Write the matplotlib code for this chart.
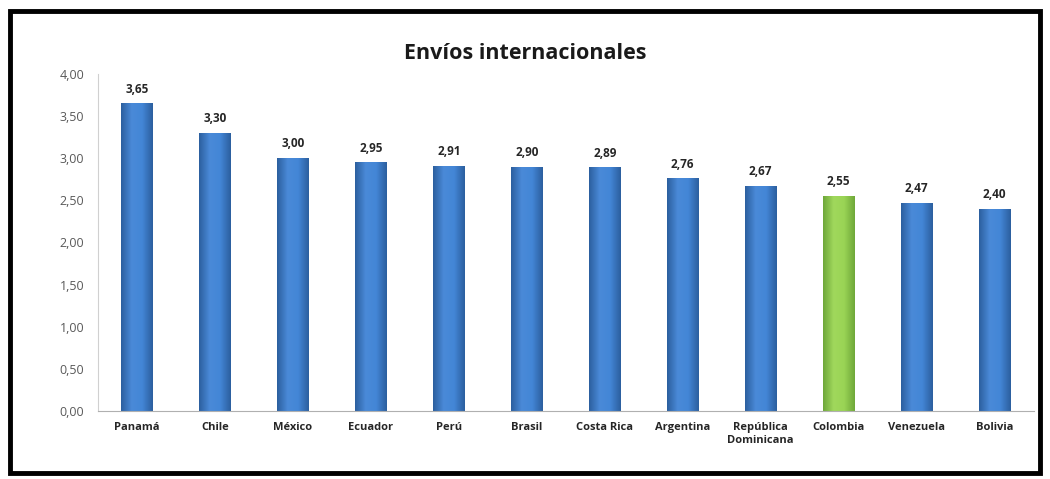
import numpy as np
import matplotlib.pyplot as plt
from matplotlib.patches import Rectangle
from matplotlib.colors import LinearSegmentedColormap
from matplotlib.ticker import FuncFormatter

paises = ['Panamá', 'Chile', 'México', 'Ecuador', 'Perú', 'Brasil', 'Costa Rica',
          'Argentina', 'República\nDominicana', 'Colombia', 'Venezuela', 'Bolivia']
valores = [3.65, 3.30, 3.00, 2.95, 2.91, 2.90, 2.89, 2.76, 2.67, 2.55, 2.47, 2.40]
destacado = 'Colombia'

plt.rcParams['font.family'] = ['Open Sans', 'DejaVu Sans']

fig = plt.figure(figsize=(10.5, 4.79), dpi=100)
ax = fig.add_axes([0.0933, 0.142, 0.891, 0.704])

azul = LinearSegmentedColormap.from_list('azul', ['#2c5f9f', '#4a8ad8', '#4386d6', '#2c5f9f'])
verde = LinearSegmentedColormap.from_list('verde', ['#6fa83a', '#a0d85c', '#9ad455', '#6fa83a'])
grad = np.linspace(0, 1, 64).reshape(1, -1)

x = np.arange(len(paises))
bars = ax.bar(x, valores, width=0.41, color='none', edgecolor='none')
for b, p in zip(bars, paises):
    bx, by = b.get_x(), b.get_y()
    bw, bh = b.get_width(), b.get_height()
    im = ax.imshow(grad, cmap=verde if p == destacado else azul, aspect='auto',
                   extent=(bx, bx + bw, by, by + bh), zorder=2)
    im.set_clip_path(b)

for xi, v in zip(x, valores):
    ax.text(xi, v + 0.09, f'{v:.2f}'.replace('.', ','), ha='center', va='bottom',
            fontsize=8.5, fontweight='bold', color='#262626')

ax.set_xlim(-0.5, len(paises) - 0.5)
ax.set_ylim(0, 4)
ax.set_yticks(np.arange(0, 4.01, 0.5))
ax.yaxis.set_major_formatter(FuncFormatter(lambda v, p: f'{v:.2f}'.replace('.', ',')))
ax.set_xticks(x)
ax.set_xticklabels(paises, fontsize=8, fontweight='bold', color='#262626')
ax.tick_params(axis='y', labelsize=9, labelcolor='#595959', length=0, pad=10)
ax.tick_params(axis='x', length=0, pad=8)

for s in ['top', 'right']:
    ax.spines[s].set_visible(False)
ax.spines['left'].set_color('#d0d0d0')
ax.spines['bottom'].set_color('#b0b0b0')

fig.text(0.5, 0.888, 'Envíos internacionales', ha='center', va='center',
         fontsize=15.5, fontweight='bold', color='#1a1a1a')

fig.patches.append(Rectangle((0.0095, 0.013), 0.981, 0.963, transform=fig.transFigure,
                             fill=False, edgecolor='black', linewidth=3.5))

fig.savefig('out.png', dpi=100)
